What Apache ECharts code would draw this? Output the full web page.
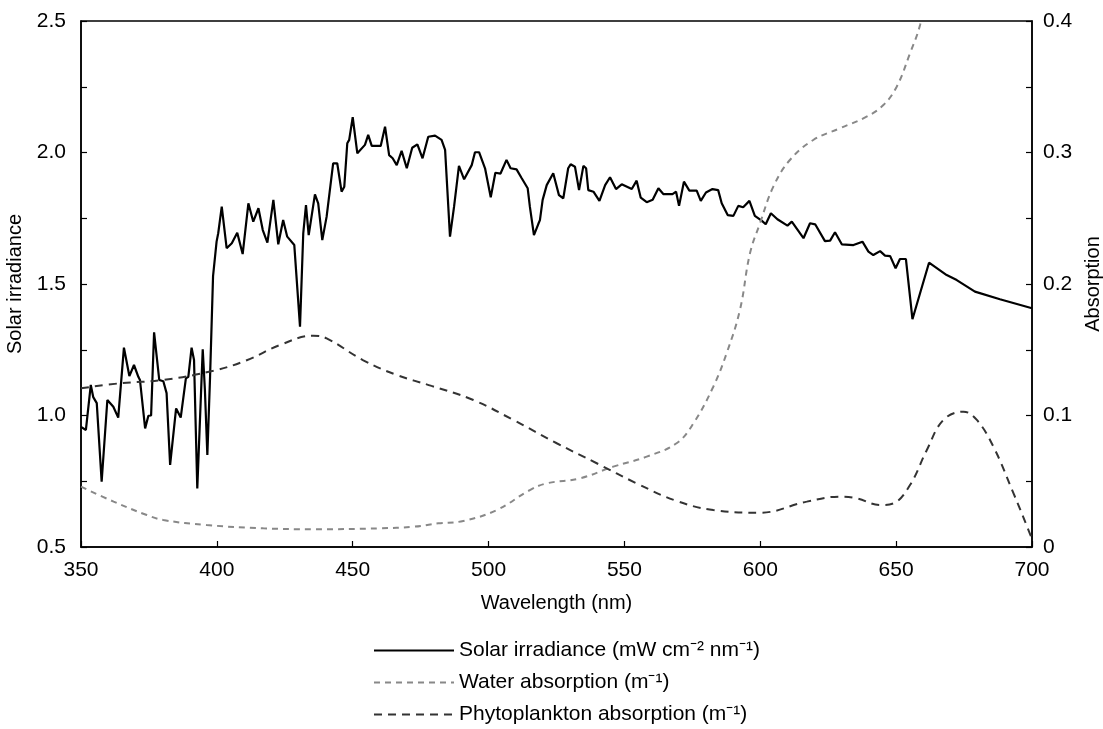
<!DOCTYPE html>
<html>
<head>
<meta charset="utf-8">
<script src="https://cdn.jsdelivr.net/npm/echarts@6/dist/echarts.min.js"></script>
<style>
  html, body { margin: 0; padding: 0; background: #fff; }
  #chart { width: 1103px; height: 729px; }
</style>
</head>
<body>
<div id="chart"></div>
<script>
// solar irradiance (left axis), wavelength in nm
const solarNm = [350, 351.8, 353.6, 354.5, 355.8, 357.6, 359.7, 361.9, 363.7, 365.8, 367.8, 369.5, 371.1, 371.7,
  373.6, 374.8, 375.8, 376.9, 377.6, 378.8, 380.3, 381.5, 382.8, 385, 386.7, 388.6, 389.5, 390.7, 391.6, 392.8,
  394.8, 395.6, 396.5, 397.5, 398.6, 399.9, 400.5, 401.8, 403.6, 405.5, 407.5, 409.5, 411.6, 413.4, 415.3, 416.9,
  418.6, 420.8, 422.6, 424.4, 425.9, 428.5, 430.6, 431.8, 432.8, 433.8, 436.1, 437.3, 438.8, 440.4, 442.8, 444.3,
  445.9, 446.9, 448, 448.7, 450, 451.7, 454.5, 455.7, 457, 460.3, 461.9, 463.4, 464.7, 466.2, 468, 469.9, 471.9,
  473.8, 475.7, 477.8, 480.3, 482.7, 484, 485.8, 487.3, 489.1, 491, 493.8, 495, 496.5, 498.7, 500.8, 502.5, 504.4,
  506.6, 508.1, 510.3, 512.2, 514.4, 515.2, 516.7, 518.3, 518.9, 519.9, 521.4, 523.8, 525.9, 527.5, 529.3, 530.2,
  531.8, 533.3, 534, 534.9, 535.9, 536.7, 538.6, 540.8, 542.9, 544.7, 546.9, 549, 552.7, 554.5, 556, 558.2, 560.4,
  562.5, 564.3, 567.7, 569, 570.1, 571.9, 573.9, 576.6, 578.1, 580, 582.4, 584.5, 585.8, 588, 590.1, 591.9, 593.7,
  596, 598, 600.5, 602, 603.9, 606.3, 610, 611.6, 615.9, 618.3, 620.2, 623.8, 625.7, 627.5, 630, 634.3, 637.6,
  639.8, 641.6, 644.1, 645.9, 647.8, 649.8, 651.4, 653.6, 656, 658.8, 662.1, 668.6, 672.3, 679, 688.2, 700];
const solarVal = [0.957, 0.945, 1.116, 1.07, 1.047, 0.748, 1.059, 1.033, 0.992, 1.258, 1.15, 1.192, 1.147, 1.135,
  0.951, 0.999, 1.0, 1.316, 1.315, 1.135, 1.13, 1.085, 0.812, 1.027, 0.992, 1.141, 1.147, 1.258, 1.211, 0.723,
  1.252, 1.097, 0.85, 1.147, 1.53, 1.661, 1.693, 1.794, 1.636, 1.655, 1.695, 1.614, 1.807, 1.737, 1.788, 1.705,
  1.657, 1.82, 1.651, 1.743, 1.68, 1.648, 1.338, 1.693, 1.8, 1.686, 1.841, 1.807, 1.667, 1.756, 1.959, 1.959,
  1.851, 1.87, 2.035, 2.048, 2.134, 1.997, 2.029, 2.067, 2.025, 2.025, 2.098, 1.99, 1.978, 1.952, 2.006, 1.94, 2.018,
  2.031, 1.978, 2.06, 2.064, 2.048, 2.01, 1.68, 1.794, 1.949, 1.898, 1.952, 2.001, 2.001, 1.94, 1.83, 1.923, 1.92,
  1.972, 1.94, 1.936, 1.902, 1.864, 1.794, 1.686, 1.728, 1.743, 1.82, 1.876, 1.921, 1.838, 1.826, 1.94, 1.955,
  1.946, 1.857, 1.854, 1.949, 1.94, 1.857, 1.851, 1.816, 1.876, 1.906, 1.861, 1.879, 1.861, 1.893, 1.828, 1.811, 1.82,
  1.864, 1.842, 1.842, 1.851, 1.797, 1.889, 1.855, 1.855, 1.816, 1.848, 1.861, 1.857, 1.807, 1.762, 1.759, 1.797, 1.792,
  1.816, 1.759, 1.741, 1.727, 1.769, 1.746, 1.722, 1.737, 1.674, 1.731, 1.727, 1.663, 1.665, 1.697, 1.651, 1.648, 1.661,
  1.623, 1.61, 1.625, 1.608, 1.606, 1.56, 1.595, 1.595, 1.366, 1.465, 1.581, 1.534, 1.515, 1.471, 1.442, 1.408];

// water absorption (right axis)
const waterNm = [350, 362, 374.2, 380.3, 396.2, 417.1, 435.5, 460, 472.3, 481.5, 490.7, 503, 515.2, 521.4, 533.6,
  545.9, 558.2, 569.2, 575.4, 582.7, 587.6, 592.5, 596.2, 599.9, 604.8, 610.9, 619.5, 629.3, 639.1, 645.3, 650.2,
  655.1, 658.8, 662];
const waterVal = [0.0459, 0.0345, 0.0243, 0.0205, 0.0167, 0.0142, 0.0135, 0.0142, 0.0154, 0.018, 0.0198, 0.0281,
  0.0433, 0.0484, 0.0522, 0.0611, 0.0687, 0.0789, 0.094, 0.1219, 0.1473, 0.1802, 0.2233, 0.2462, 0.274, 0.2943,
  0.3095, 0.3184, 0.3272, 0.3361, 0.35, 0.3754, 0.397, 0.43];

// phytoplankton absorption (right axis)
const phytoNm = [350, 364.4, 380.3, 398.7, 411, 423.2, 435.5, 440.4, 453.9, 466.2, 479, 494.4, 509.1, 525.1, 539.8,
  554.5, 569.2, 582.7, 599.9, 617.1, 629.3, 635.5, 644.1, 649, 655.1, 661.3, 667.4, 674.8, 679.7, 685.8, 693.2,
  698.7, 700];
const phytoVal = [0.1207, 0.1245, 0.127, 0.134, 0.142, 0.1536, 0.1607, 0.1587, 0.142, 0.1308, 0.1225, 0.1118,
  0.0966, 0.0789, 0.0637, 0.0484, 0.035, 0.0281, 0.0261, 0.0345, 0.0383, 0.037, 0.0319, 0.0332, 0.0471, 0.0738,
  0.0966, 0.1029, 0.0966, 0.0763, 0.0408, 0.0129, 0.006];

const seriesNames = ['Solar irradiance (mW cm⁻² nm⁻¹)', 'Water absorption (m⁻¹)', 'Phytoplankton absorption (m⁻¹)'];

const zip = (xs, ys) => xs.map((x, i) => [x, ys[i]]);

const chart = echarts.init(document.getElementById('chart'));
const font = 'Liberation Sans, Arial, sans-serif';
const axisCommon = {
  axisLine: { show: true, lineStyle: { color: '#000', width: 1.5 } },
  axisTick: { show: true, inside: true, length: 6, lineStyle: { color: '#000', width: 1.2 } },
  splitLine: { show: false },
  nameTextStyle: { fontFamily: font, fontSize: 20, color: '#000' }
};
const labelStyle = { fontFamily: font, fontSize: 21, color: '#000' };

// one legend per row so the rows stack like the original
const legends = seriesNames.map((name, i) => ({
  orient: 'vertical', left: 373, top: 640 + i * 32, padding: 0,
  itemWidth: 80, itemHeight: 20, itemGap: 0,
  itemStyle: { opacity: 0 },
  textStyle: { fontFamily: font, fontSize: 21, color: '#000', padding: [0, 0, 0, 0] },
  data: [name]
}));

chart.setOption({
  animation: false,
  textStyle: { fontFamily: font },
  grid: {
    left: 81, right: 71, top: 21, bottom: 182, outerBoundsMode: 'none',
    show: true, borderColor: '#000', borderWidth: 1.5
  },
  xAxis: {
    ...axisCommon,
    type: 'value', min: 350, max: 700, interval: 50,
    name: 'Wavelength (nm)', nameLocation: 'middle', nameGap: 46,
    axisLabel: { ...labelStyle, margin: 13 }
  },
  yAxis: [
    {
      ...axisCommon,
      type: 'value', min: 0.5, max: 2.5, interval: 0.5, position: 'left',
      name: 'Solar irradiance', nameLocation: 'middle', nameRotate: 90, nameGap: 51,
      minorTick: { show: true, splitNumber: 2, length: 6, lineStyle: { color: '#000', width: 1.2 } },
      axisLabel: { ...labelStyle, margin: 15, formatter: v => v.toFixed(1) }
    },
    {
      ...axisCommon,
      type: 'value', min: 0, max: 0.4, interval: 0.1, position: 'right',
      name: 'Absorption', nameLocation: 'middle', nameRotate: 90, nameGap: 47,
      minorTick: { show: true, splitNumber: 2, length: 6, lineStyle: { color: '#000', width: 1.2 } },
      axisLabel: { ...labelStyle, margin: 11, formatter: v => (v === 0 ? '0' : v.toFixed(1)) }
    }
  ],
  legend: legends,
  series: [
    {
      name: seriesNames[0], type: 'line', yAxisIndex: 0, symbol: 'none',
      data: zip(solarNm, solarVal),
      lineStyle: { color: '#000', width: 2.2 }, itemStyle: { color: '#000' }
    },
    {
      name: seriesNames[1], type: 'line', yAxisIndex: 1, symbol: 'none', smooth: 0.4,
      data: zip(waterNm, waterVal), clip: true,
      lineStyle: { color: '#888', width: 2, type: [6, 5] }, itemStyle: { color: '#888' }
    },
    {
      name: seriesNames[2], type: 'line', yAxisIndex: 1, symbol: 'none', smooth: 0.4,
      data: zip(phytoNm, phytoVal), clip: true,
      lineStyle: { color: '#333', width: 2, type: [8, 6] }, itemStyle: { color: '#333' }
    }
  ]
});
</script>
</body>
</html>
